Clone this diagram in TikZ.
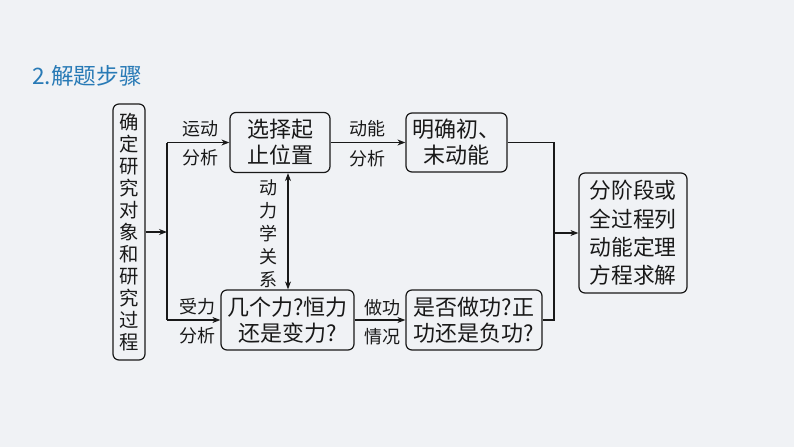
\documentclass[tikz,border=0pt]{standalone}
\usepackage{fontspec}
\setmainfont{Liberation Serif}
\newfontfamily\cjk{Noto Sans CJK SC}
\usetikzlibrary{arrows.meta}
\definecolor{bgc}{RGB}{240,242,245}
\definecolor{titleblue}{RGB}{40,122,182}
\definecolor{ink}{RGB}{25,25,25}
\tikzset{
  box/.style={draw=ink, line width=0.9pt, rounded corners=4.5pt, inner sep=0pt, align=center, text=ink,
    font=\cjk\fontsize{16.5}{19.5}\selectfont},
  lbl/.style={inner sep=0pt, text=ink, font=\cjk\fontsize{13.5}{16}\selectfont},
  conn/.style={draw=ink, line width=0.9pt},
  arr/.style={conn, -{Stealth[length=6pt,width=4.5pt]}},
  darr/.style={conn, {Stealth[length=6pt,width=4.5pt]}-{Stealth[length=6pt,width=4.5pt]}}
}
\begin{document}
\begin{tikzpicture}[x=0.75pt,y=-0.75pt]
\fill[bgc] (0,0) rectangle (794,447);
\useasboundingbox (0,0) rectangle (794,447);

\node[anchor=west, text=titleblue, inner sep=0pt, font=\cjk\fontsize{17}{20}\selectfont] (title) at (32,76) {2.解题步骤};

\node[box, minimum width=24pt, minimum height=192pt, font=\cjk\fontsize{14.5}{16.5}\selectfont] (L) at (129,232)
  {确\\定\\研\\究\\对\\象\\和\\研\\究\\过\\程};

\node[box, minimum width=75pt, minimum height=45pt] (B1) at (280,142.5) {选择起\\止位置};
\node[box, minimum width=75.75pt, minimum height=44.25pt] (B2) at (456.5,142.5) {明确初、\\末动能};
\node[box, minimum width=99.75pt, minimum height=45pt] (B3) at (287.5,320) {几个力?恒力\\还是变力?};
\node[box, minimum width=102pt, minimum height=45pt] (B4) at (474,320) {是否做功?正\\功还是负功?};
\node[box, minimum width=81pt, minimum height=90pt, font=\cjk\fontsize{16.3}{21.25}\selectfont] (F) at (633,233) {分阶段或\\全过程列\\动能定理\\方程求解};

\node[lbl] (l1a) at (200,129) {运动};
\node[lbl] (l1b) at (200,158) {分析};
\node[lbl] (l2a) at (367,129) {动能};
\node[lbl] (l2b) at (367,159) {分析};
\node[lbl] (l3a) at (197,307) {受力};
\node[lbl] (l3b) at (197,336) {分析};
\node[lbl] (l4a) at (382,308) {做功};
\node[lbl] (l4b) at (382,337) {情况};
\node[lbl, align=center, font=\cjk\fontsize{13.5}{17.2}\selectfont] (l5) at (268,234) {动\\力\\学\\关\\系};

\coordinate (jm) at (167,232);
\coordinate (jt) at (167,142.5);
\coordinate (jb) at (167,320);
\coordinate (rm) at (554,233);
\coordinate (da) at (288,0);

\draw[arr] (L.east |- jm) -- (jm);
\draw[conn] (jt) -- (jb);
\draw[arr] (jt) -- (B1.west);
\draw[arr] (jb) -- (B3.west);
\draw[arr] (B1.east) -- (B2.west);
\draw[arr] (B3.east) -- (B4.west);
\draw[conn] (B2.east) -| (rm) |- (B4.east);
\draw[arr] (rm) -- (F.west |- rm);
\draw[darr] (B1.south -| da) -- (B3.north -| da);
\end{tikzpicture}
\end{document}
